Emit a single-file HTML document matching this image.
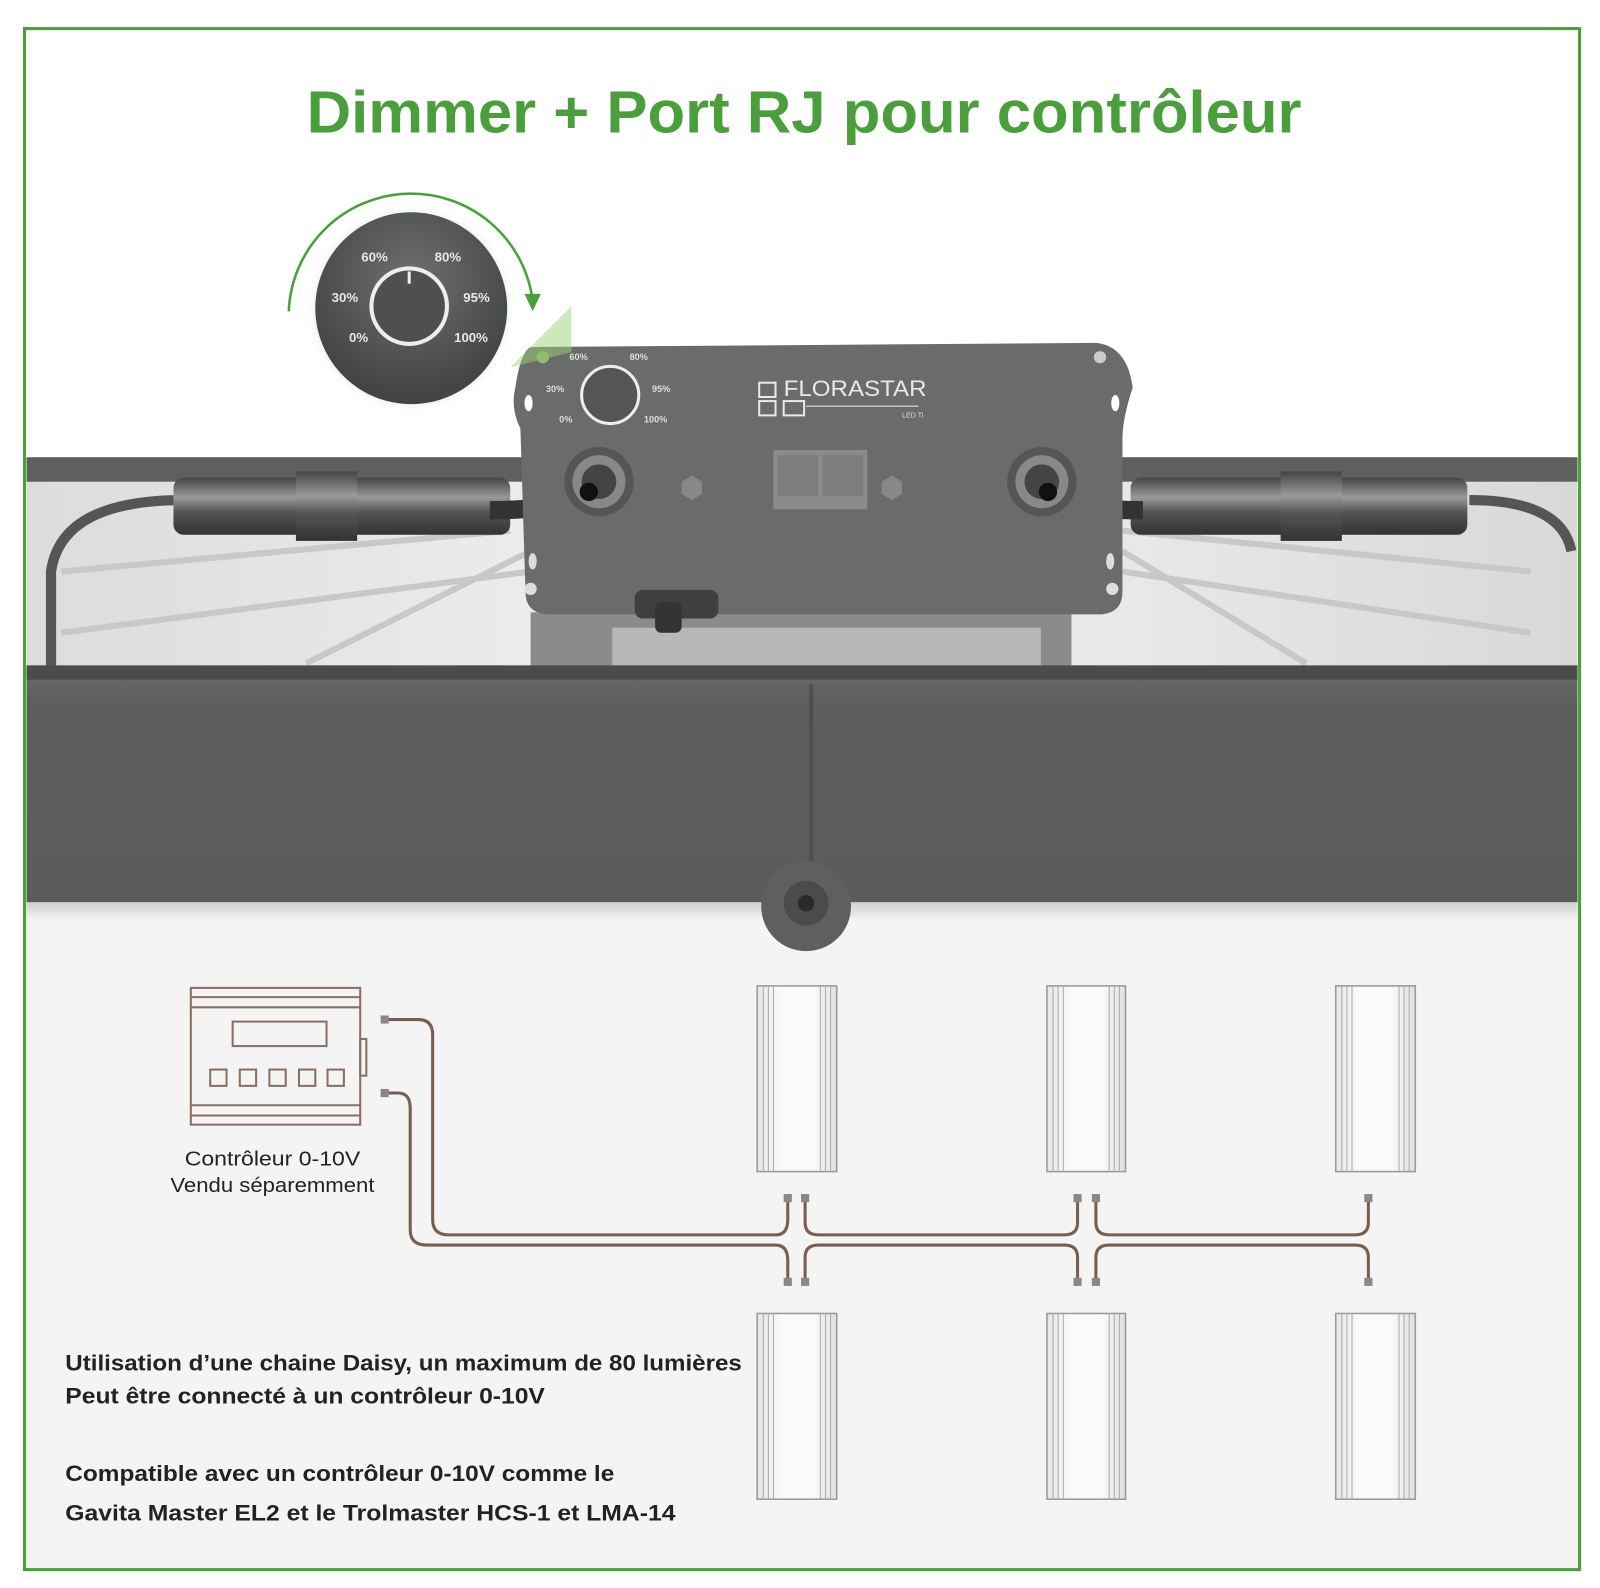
<!DOCTYPE html>
<html><head><meta charset="utf-8"><style>
html,body{margin:0;padding:0;background:#fff}
svg{display:block}
</style></head><body>
<svg width="1600" height="1588" viewBox="0 0 1568 1556" preserveAspectRatio="none" xmlns="http://www.w3.org/2000/svg">
<defs>
<linearGradient id="bar" x1="0" y1="0" x2="0" y2="1"><stop offset="0" stop-color="#6b6d6d"/><stop offset="0.15" stop-color="#5d5f5f"/><stop offset="1" stop-color="#5a5c5c"/></linearGradient>
<linearGradient id="light" x1="0" y1="0" x2="1" y2="0"><stop offset="0" stop-color="#dcdcdc"/><stop offset="0.5" stop-color="#f4f4f4"/><stop offset="1" stop-color="#d8d8d8"/></linearGradient>
<radialGradient id="glow" cx="0.5" cy="0.5" r="0.5"><stop offset="0.8" stop-color="#8fd070"/><stop offset="1" stop-color="#ffffff" stop-opacity="0"/></radialGradient>
<radialGradient id="dial" cx="0.5" cy="0.35" r="0.6"><stop offset="0" stop-color="#6e7070"/><stop offset="1" stop-color="#434545"/></radialGradient>
<linearGradient id="drv" x1="0" y1="0" x2="1" y2="0"><stop offset="0" stop-color="#e6e6e6"/><stop offset="0.3" stop-color="#fafafa"/><stop offset="0.7" stop-color="#fafafa"/><stop offset="1" stop-color="#e0e0e0"/></linearGradient>
<linearGradient id="conn" x1="0" y1="0" x2="0" y2="1"><stop offset="0" stop-color="#444"/><stop offset="0.35" stop-color="#9a9a9a"/><stop offset="0.6" stop-color="#555"/><stop offset="1" stop-color="#333"/></linearGradient>
<linearGradient id="shadow" x1="0" y1="0" x2="0" y2="1"><stop offset="0" stop-color="#cfcfcf"/><stop offset="1" stop-color="#f4f4f4"/></linearGradient>
</defs>
<rect width="1568" height="1556" fill="#fff"/>
<rect x="24" y="884" width="1524" height="654" fill="#f4f4f4"/>
<rect x="26" y="884" width="1520" height="18" fill="url(#shadow)"/>

<text x="788" y="130" text-anchor="middle" font-family="Liberation Sans, sans-serif" font-weight="bold" font-size="58" fill="#4a9e3c" textLength="975" lengthAdjust="spacingAndGlyphs">Dimmer + Port RJ pour contrôleur</text>

<polygon points="26,470 1546,470 1546,655 26,655" fill="url(#light)"/>
<g stroke="#c8c8c8" stroke-width="6">
<line x1="60" y1="560" x2="500" y2="520"/><line x1="60" y1="620" x2="520" y2="560"/>
<line x1="1500" y1="560" x2="1100" y2="520"/><line x1="1500" y1="620" x2="1100" y2="560"/>
<line x1="300" y1="650" x2="520" y2="540"/><line x1="1280" y1="650" x2="1100" y2="540"/>
</g>
<rect x="26" y="448" width="1520" height="24" fill="#5e6060"/>
<rect x="520" y="600" width="530" height="55" fill="#8a8c8c"/>
<rect x="600" y="615" width="420" height="40" fill="#b8b8b8"/>
<path d="M180,490 Q60,490 50,560 L50,655" fill="none" stroke="#555" stroke-width="10"/>
<path d="M1440,490 Q1530,490 1540,540" fill="none" stroke="#555" stroke-width="10"/>

<rect x="26" y="652" width="1520" height="232" fill="url(#bar)"/>
<rect x="26" y="652" width="1520" height="14" fill="#4a4c4c"/>
<line x1="795" y1="670" x2="795" y2="860" stroke="#4e5050" stroke-width="4"/>
<circle cx="790" cy="888" r="44" fill="#5e6060"/>
<circle cx="790" cy="885" r="22" fill="#4a4c4c"/>
<circle cx="790" cy="885" r="8" fill="#2a2a2a"/>

<rect x="170" y="468" width="330" height="56" rx="10" fill="url(#conn)"/>
<rect x="290" y="462" width="60" height="68" fill="url(#conn)"/>
<path d="M480,500 Q560,500 585,475" fill="none" stroke="#333" stroke-width="18"/>
<rect x="1108" y="468" width="330" height="56" rx="10" fill="url(#conn)"/>
<rect x="1255" y="462" width="60" height="68" fill="url(#conn)"/>
<path d="M1120,500 Q1040,500 1020,475" fill="none" stroke="#333" stroke-width="18"/>

<path d="M520,340 L1075,336 Q1105,340 1110,380 Q1100,410 1100,430 L1100,580 Q1100,600 1080,602 L535,602 Q515,600 515,580 L510,420 Q500,400 505,380 Q510,345 520,340 Z" fill="#6a6c6c"/>
<path d="M500,360 L560,300 L560,345 Z" fill="#9bd47a" opacity="0.5"/>
<circle cx="532" cy="350" r="6" fill="#8cc070"/>
<circle cx="1078" cy="350" r="6" fill="#ccc"/>
<circle cx="520" cy="577" r="6" fill="#ddd"/><circle cx="1090" cy="577" r="6" fill="#ddd"/>
<ellipse cx="518" cy="395" rx="4" ry="8" fill="#fff"/><ellipse cx="1093" cy="395" rx="4" ry="8" fill="#fff"/>
<ellipse cx="522" cy="550" rx="4" ry="8" fill="#ddd"/><ellipse cx="1088" cy="550" rx="4" ry="8" fill="#ddd"/>
<circle cx="598" cy="387" r="28" fill="#555" stroke="#eee" stroke-width="3"/>
<g font-family="Liberation Sans, sans-serif" font-weight="bold" font-size="9" fill="#ddd">
<text x="558" y="353">60%</text><text x="617" y="353">80%</text><text x="535" y="384">30%</text><text x="639" y="384">95%</text><text x="548" y="414">0%</text><text x="631" y="414">100%</text></g>
<circle cx="587" cy="472" r="34" fill="#555"/><circle cx="587" cy="472" r="26" fill="#888"/><circle cx="587" cy="472" r="17" fill="#444"/>
<circle cx="1021" cy="472" r="34" fill="#555"/><circle cx="1021" cy="472" r="26" fill="#888"/><circle cx="1021" cy="472" r="17" fill="#444"/>
<circle cx="577" cy="482" r="9" fill="#111"/><circle cx="1027" cy="482" r="9" fill="#111"/>
<rect x="758" y="441" width="92" height="58" fill="#8a8c8c"/>
<rect x="762" y="446" width="40" height="40" fill="#7c7e7e"/><rect x="806" y="446" width="40" height="40" fill="#7c7e7e"/>
<polygon points="678,466 688,472 688,484 678,490 668,484 668,472" fill="#888"/>
<polygon points="874,466 884,472 884,484 874,490 864,484 864,472" fill="#888"/>
<text x="768" y="388" font-family="Liberation Sans, sans-serif" font-size="22" fill="#e8e8e8" textLength="140" lengthAdjust="spacingAndGlyphs">FLORASTAR</text>
<rect x="744" y="375" width="16" height="14" fill="none" stroke="#e8e8e8" stroke-width="2"/>
<rect x="744" y="393" width="16" height="14" fill="none" stroke="#e8e8e8" stroke-width="2"/>
<rect x="768" y="393" width="20" height="14" fill="none" stroke="#e8e8e8" stroke-width="2"/>
<line x1="790" y1="398" x2="900" y2="398" stroke="#ddd" stroke-width="1"/>
<text x="884" y="409" font-family="Liberation Sans, sans-serif" font-size="7" fill="#ddd">LED Ti</text>
<rect x="622" y="578" width="82" height="28" rx="8" fill="#3e4040"/>
<rect x="642" y="590" width="26" height="30" rx="6" fill="#333"/>

<path d="M283,305 A120,120 0 0 1 522,295" fill="none" stroke="#4a9e3c" stroke-width="2.5"/>
<polygon points="514,288 530,288 522,305" fill="#4a9e3c"/>
<circle cx="403" cy="302" r="103" fill="url(#glow)" opacity="0.8"/>
<circle cx="403" cy="302" r="94" fill="url(#dial)"/>
<circle cx="401" cy="300" r="37" fill="#4e5050" stroke="#eee" stroke-width="4"/>
<line x1="401" y1="266" x2="401" y2="278" stroke="#eee" stroke-width="3"/>
<g font-family="Liberation Sans, sans-serif" font-weight="bold" font-size="13" fill="#e8e8e8">
<text x="354" y="256">60%</text><text x="426" y="256">80%</text><text x="325" y="296">30%</text><text x="454" y="296">95%</text><text x="342" y="335">0%</text><text x="445" y="335">100%</text></g>

<g fill="none" stroke="#8a6e62" stroke-width="2">
<rect x="187" y="968" width="166" height="134"/>
<line x1="187" y1="977" x2="353" y2="977"/><line x1="187" y1="987" x2="353" y2="987"/>
<line x1="187" y1="1083" x2="353" y2="1083"/><line x1="187" y1="1093" x2="353" y2="1093"/>
<rect x="228" y="1001" width="92" height="24"/>
<rect x="206" y="1048" width="16" height="16"/><rect x="235" y="1048" width="16" height="16"/><rect x="264" y="1048" width="16" height="16"/><rect x="293" y="1048" width="16" height="16"/><rect x="321" y="1048" width="16" height="16"/>
<rect x="353" y="1018" width="6" height="36"/>
</g>
<text x="267" y="1142" text-anchor="middle" font-family="Liberation Sans, sans-serif" font-size="20" fill="#222" textLength="172" lengthAdjust="spacingAndGlyphs">Contrôleur 0-10V</text>
<text x="267" y="1168" text-anchor="middle" font-family="Liberation Sans, sans-serif" font-size="20" fill="#222" textLength="200" lengthAdjust="spacingAndGlyphs">Vendu séparemment</text>

<g fill="none" stroke="#7a5c50" stroke-width="3">
<path d="M378,999 L410,999 Q424,999 424,1014 L424,1195 Q424,1210 440,1210 L760,1210 Q772,1210 772,1195 L772,1175"/>
<path d="M378,1071 L390,1071 Q402,1071 402,1086 L402,1205 Q402,1220 418,1220 L760,1220 Q772,1220 772,1235 L772,1255"/>
<path d="M789,1175 L789,1198 Q789,1210 802,1210 L1043,1210 Q1056,1210 1056,1198 L1056,1175"/>
<path d="M789,1255 L789,1232 Q789,1220 802,1220 L1043,1220 Q1056,1220 1056,1232 L1056,1255"/>
<path d="M1074,1175 L1074,1198 Q1074,1210 1087,1210 L1328,1210 Q1341,1210 1341,1198 L1341,1175"/>
<path d="M1074,1255 L1074,1232 Q1074,1220 1087,1220 L1328,1220 Q1341,1220 1341,1232 L1341,1255"/>
</g>
<g fill="#888">
<rect x="373" y="995" width="8" height="8"/><rect x="373" y="1067" width="8" height="8"/>
<rect x="768" y="1170" width="8" height="8"/><rect x="785" y="1170" width="8" height="8"/><rect x="1052" y="1170" width="8" height="8"/><rect x="1070" y="1170" width="8" height="8"/><rect x="1337" y="1170" width="8" height="8"/>
<rect x="768" y="1252" width="8" height="8"/><rect x="785" y="1252" width="8" height="8"/><rect x="1052" y="1252" width="8" height="8"/><rect x="1070" y="1252" width="8" height="8"/><rect x="1337" y="1252" width="8" height="8"/>
</g>

<g stroke="#999" stroke-width="1.5" fill="url(#drv)">
<rect x="742" y="966" width="78" height="182"/><rect x="1026" y="966" width="77" height="182"/><rect x="1309" y="966" width="78" height="182"/>
<rect x="742" y="1287" width="78" height="182"/><rect x="1026" y="1287" width="77" height="182"/><rect x="1309" y="1287" width="78" height="182"/>
</g>
<g stroke="#aaa" stroke-width="1">
<path d="M748,966V1148M753,966V1148M758,966V1148M804,966V1148M809,966V1148M814,966V1148"/>
<path d="M1032,966V1148M1037,966V1148M1042,966V1148M1087,966V1148M1092,966V1148M1097,966V1148"/>
<path d="M1315,966V1148M1320,966V1148M1325,966V1148M1371,966V1148M1376,966V1148M1381,966V1148"/>
<path d="M748,1287V1469M753,1287V1469M758,1287V1469M804,1287V1469M809,1287V1469M814,1287V1469"/>
<path d="M1032,1287V1469M1037,1287V1469M1042,1287V1469M1087,1287V1469M1092,1287V1469M1097,1287V1469"/>
<path d="M1315,1287V1469M1320,1287V1469M1325,1287V1469M1371,1287V1469M1376,1287V1469M1381,1287V1469"/>
</g>

<g font-family="Liberation Sans, sans-serif" font-weight="bold" font-size="22" fill="#222">
<text x="64" y="1343" textLength="663" lengthAdjust="spacingAndGlyphs">Utilisation d’une chaine Daisy, un maximum de 80 lumières</text>
<text x="64" y="1375" textLength="470" lengthAdjust="spacingAndGlyphs">Peut être connecté à un contrôleur 0-10V</text>
<text x="64" y="1451" textLength="538" lengthAdjust="spacingAndGlyphs">Compatible avec un contrôleur 0-10V comme le</text>
<text x="64" y="1490" textLength="598" lengthAdjust="spacingAndGlyphs">Gavita Master EL2 et le Trolmaster HCS-1 et LMA-14</text>
</g>

<rect x="24" y="28" width="1524" height="1510" fill="none" stroke="#4a9e3c" stroke-width="3"/>
</svg>
</body></html>
